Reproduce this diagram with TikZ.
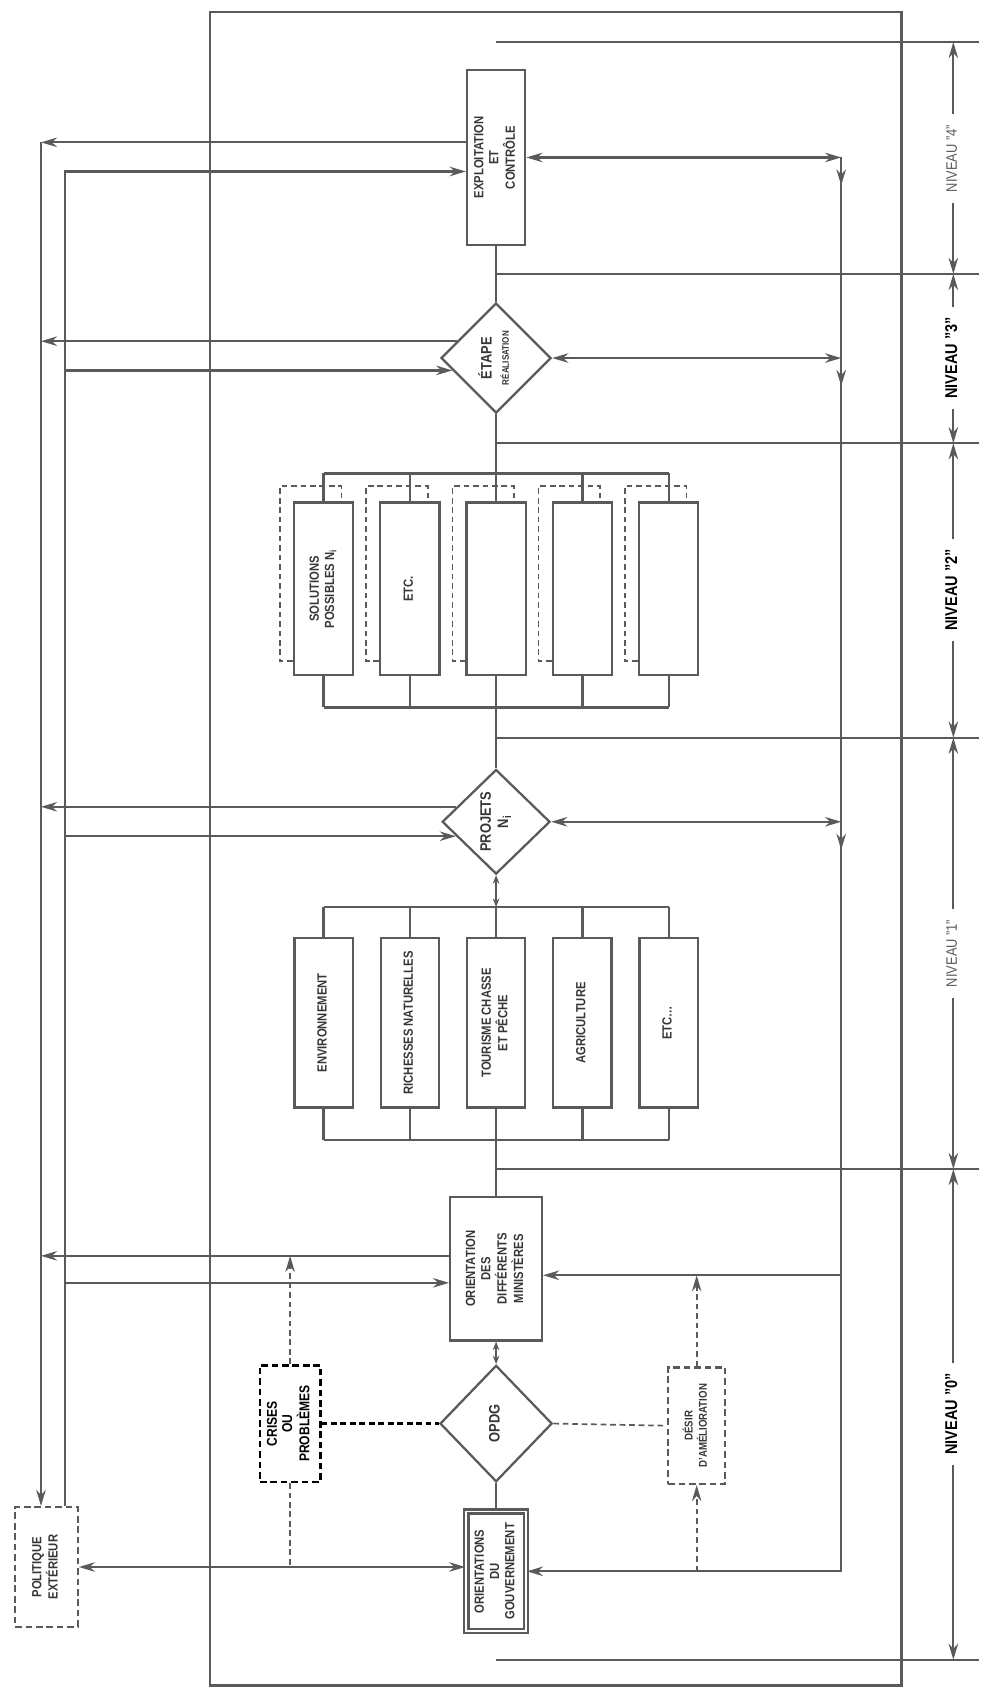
\documentclass[tikz,border=0pt]{standalone}
\usepackage{graphicx}
\usepackage{fontspec}
\setmainfont{Liberation Sans}[FakeStretch=0.85]
\usetikzlibrary{shapes.geometric,calc,arrows.meta}
\definecolor{ctrait}{HTML}{5A5A5A}
\definecolor{ctexte}{HTML}{363636}
\newcommand{\vtexte}[1]{\rotatebox{90}{\begin{tabular}{@{}c@{}}#1\end{tabular}}}
\tikzset{
  boite/.style={draw, inner sep=0pt, text=ctexte, font=\fontsize{7}{8}\selectfont\bfseries},
  losange/.style={draw, diamond, inner sep=0pt, text=ctexte, font=\fontsize{8}{9}\selectfont\bfseries},
  tirets/.style={draw, dash pattern=on 3.5pt off 2pt, inner sep=0pt, text=ctexte, font=\fontsize{7}{8}\selectfont\bfseries},
  ombre/.style={dash pattern=on 3pt off 2pt, line width=0.9pt},
  pointille/.style={dash pattern=on 3pt off 2pt, line width=0.9pt},
  petite/.style={arrows={Stealth[length=4.5pt,width=3.5pt]-Stealth[length=4.5pt,width=3.5pt]}},
  niveau/.style={inner sep=5pt, text=black, font=\fontsize{9}{10}\selectfont\bfseries},
  pale/.style={text=ctrait, font=\fontsize{8}{9}\selectfont},
  fort/.style={}
}

\begin{document}
\begin{tikzpicture}[x=0.2mm,y=-0.2mm,>={Stealth[length=8.5pt,width=5pt]},line width=1.2pt,color=ctrait]
  \useasboundingbox (0,0) rectangle (911,1568);
  \draw (195,11) rectangle (836,1563);

  % colonne centrale
  \node[boite, minimum width=10.8mm, minimum height=32.4mm] (expl) at (460,146) {\vtexte{EXPLOITATION\\ET\\CONTRÔLE}};
  \node[losange, minimum width=20.4mm, minimum height=20.4mm] (etape) at (460,332) {\vtexte{ÉTAPE\\{\fontsize{5}{6}\selectfont RÉALISATION}}};
  \foreach \i/\txt in {1/{SOLUTIONS\\POSSIBLES N\textsubscript{i}},2/ETC.,3/{},4/{},5/{}}
    \node[boite, minimum width=11mm, minimum height=32mm] (sol\i) at ({220+80*\i},546) {\vtexte{\txt}};
  \node[losange, minimum width=20mm, minimum height=19.4mm] (projets) at (460,762) {\vtexte{PROJETS\\N\textsubscript{i}}};
  \foreach \i/\txt in {1/ENVIRONNEMENT,2/RICHESSES NATURELLES,3/{TOURISME CHASSE\\ET PÊCHE},4/AGRICULTURE,5/{ETC\ldots}}
    \node[boite, minimum width=10.8mm, minimum height=31.4mm] (dom\i) at ({220+80*\i},948.5) {\vtexte{\txt}};
  \node[boite, minimum width=17mm, minimum height=26.6mm] (orient) at (460,1176.5) {\vtexte{ORIENTATION\\DES\\DIFFÉRENTS\\MINISTÈRES}};
  \node[losange, minimum width=20.8mm, minimum height=21.6mm] (opdg) at (460,1320) {\vtexte{OPDG}};
  \node[boite, double, double distance=1pt, minimum width=11mm, minimum height=22.2mm] (gouv) at (460,1457) {\vtexte{ORIENTATIONS\\DU\\GOUVERNEMENT}};
  \node[tirets, draw=black, text=black, line width=1.3pt, font=\fontsize{7.5}{8}\selectfont\bfseries, minimum width=11.2mm, minimum height=21.6mm] (crises) at (269,1320) {\vtexte{CRISES\\OU\\PROBLÈMES}};
  \node[tirets, font=\fontsize{6}{7}\selectfont\bfseries, minimum width=10.6mm, minimum height=21.6mm] (desir) at (646,1322) {\vtexte{DÉSIR\\D'AMÉLIORATION}};
  \node[tirets, minimum width=11.6mm, minimum height=22.2mm] (polit) at (43,1453) {\vtexte{POLITIQUE\\EXTÉRIEUR}};

  \coordinate (b2h) at (460,439);
  \coordinate (b2b) at (460,656);
  \coordinate (b1h) at (460,841);
  \coordinate (b1b) at (460,1057);
  \coordinate (n4h) at (460,39);
  \coordinate (n43) at (460,254);
  \coordinate (n32) at (460,411);
  \coordinate (n21) at (460,684);
  \coordinate (n10) at (460,1084);
  \coordinate (n0b) at (460,1539);
  \coordinate (g1) at (38,132);
  \coordinate (g2) at (60,159);
  \coordinate (rv) at (780,0);
  \coordinate (cote) at (884,0);
  \coordinate (fin) at (908,0);

  % liaisons verticales
  \draw (expl.south) -- (etape.north);
  \draw (etape.south) -- (b2h);
  \draw (sol1.north |- b2h) -- (sol5.north |- b2h);
  \draw (sol1.south |- b2b) -- (sol5.south |- b2b);
  \foreach \i in {1,...,5} {
    \draw (sol\i.north) -- (sol\i.north |- b2h);
    \draw (sol\i.south) -- (sol\i.south |- b2b);
    \draw[ombre] ($(sol\i.south west)+(0,-14)$) -- ++(-12,0) |- ($(sol\i.north east)+(-12,-14)$) -- ++(0,14);
    \draw (dom\i.north) -- (dom\i.north |- b1h);
    \draw (dom\i.south) -- (dom\i.south |- b1b);
  }
  \draw (b2b) -- (projets.north);
  \draw[petite] (projets.south) -- (b1h);
  \draw (dom1.north |- b1h) -- (dom5.north |- b1h);
  \draw (dom1.south |- b1b) -- (dom5.south |- b1b);
  \draw (b1b) -- (orient.north);
  \draw[petite] (orient.south) -- (opdg.north);
  \draw (opdg.south) -- (gouv.north);

  % niveaux
  \foreach \c in {n4h,n43,n32,n21,n10,n0b}
    \draw (\c) -- (\c -| fin);
  \foreach \n/\h/\b/\y/\s in {4/n4h/n43/147/pale,3/n43/n32/332/fort,2/n32/n21/547/fort,1/n21/n10/884/pale,0/n10/n0b/1311/fort} {
    \node[niveau,\s] (niv\n) at (884,\y) {\vtexte{NIVEAU "\n"}};
    \draw[->] (niv\n.north) -- (\h -| cote);
    \draw[->] (niv\n.south) -- (\b -| cote);
  }

  % politique exterieur
  \coordinate (etsort) at ($(etape.west)!0.3!(etape.north)$);
  \coordinate (etentr) at ($(etape.west)!0.22!(etape.south)$);
  \coordinate (prsort) at ($(projets.west)!0.28!(projets.north)$);
  \coordinate (prentr) at ($(projets.west)!0.27!(projets.south)$);
  \coordinate (orsort) at ($(orient.west)+(0,-12)$);
  \coordinate (orentr) at ($(orient.west)+(0,13)$);
  \draw[->] (expl.west |- g1) -- (g1);
  \draw[->] (g1) -- (g1 |- polit.north);
  \draw[->] (g2 |- polit.north) -- (g2) -- (g2 -| expl.west);
  \draw[->] (etsort) -- (etsort -| g1);
  \draw[->] (etentr -| g2) -- (etentr);
  \draw[->] (prsort) -- (prsort -| g1);
  \draw[->] (prentr -| g2) -- (prentr);
  \draw[->] (orsort) -- (orsort -| g1);
  \draw[->] (orentr -| g2) -- (orentr);
  \draw[<->] (polit.east) -- (polit.east -| gouv.west);

  % retour a droite
  \coordinate (ordroit) at ($(orient.east)+(0,6)$);
  \draw[->] (expl.east -| rv) -- (gouv.east -| rv) -- (gouv.east);
  \draw[->] (ordroit -| rv) -- (ordroit);
  \draw[<->] (expl.east) -- (expl.east -| rv);
  \draw[<->] (etape.east) -- (etape.east -| rv);
  \draw[<->] (projets.east) -- (projets.east -| rv);
  \foreach \p in {expl,etape,projets}
    \draw[->] ($(\p.east -| rv)+(0,6)$) -- ++(0,20);

  % crises et desir
  \draw[pointille, draw=black, line width=1.2pt] (crises.east) -- (opdg.west);
  \draw[pointille] (opdg.east) -- (desir.west);
  \draw[pointille,->] (crises.north) -- (crises.north |- orsort);
  \draw[pointille] (crises.south) -- (crises.south |- polit.east);
  \draw[pointille,->] (desir.north) -- (desir.north |- ordroit);
  \draw[pointille,->] (desir.south |- gouv.east) -- (desir.south);
\end{tikzpicture}
\end{document}
